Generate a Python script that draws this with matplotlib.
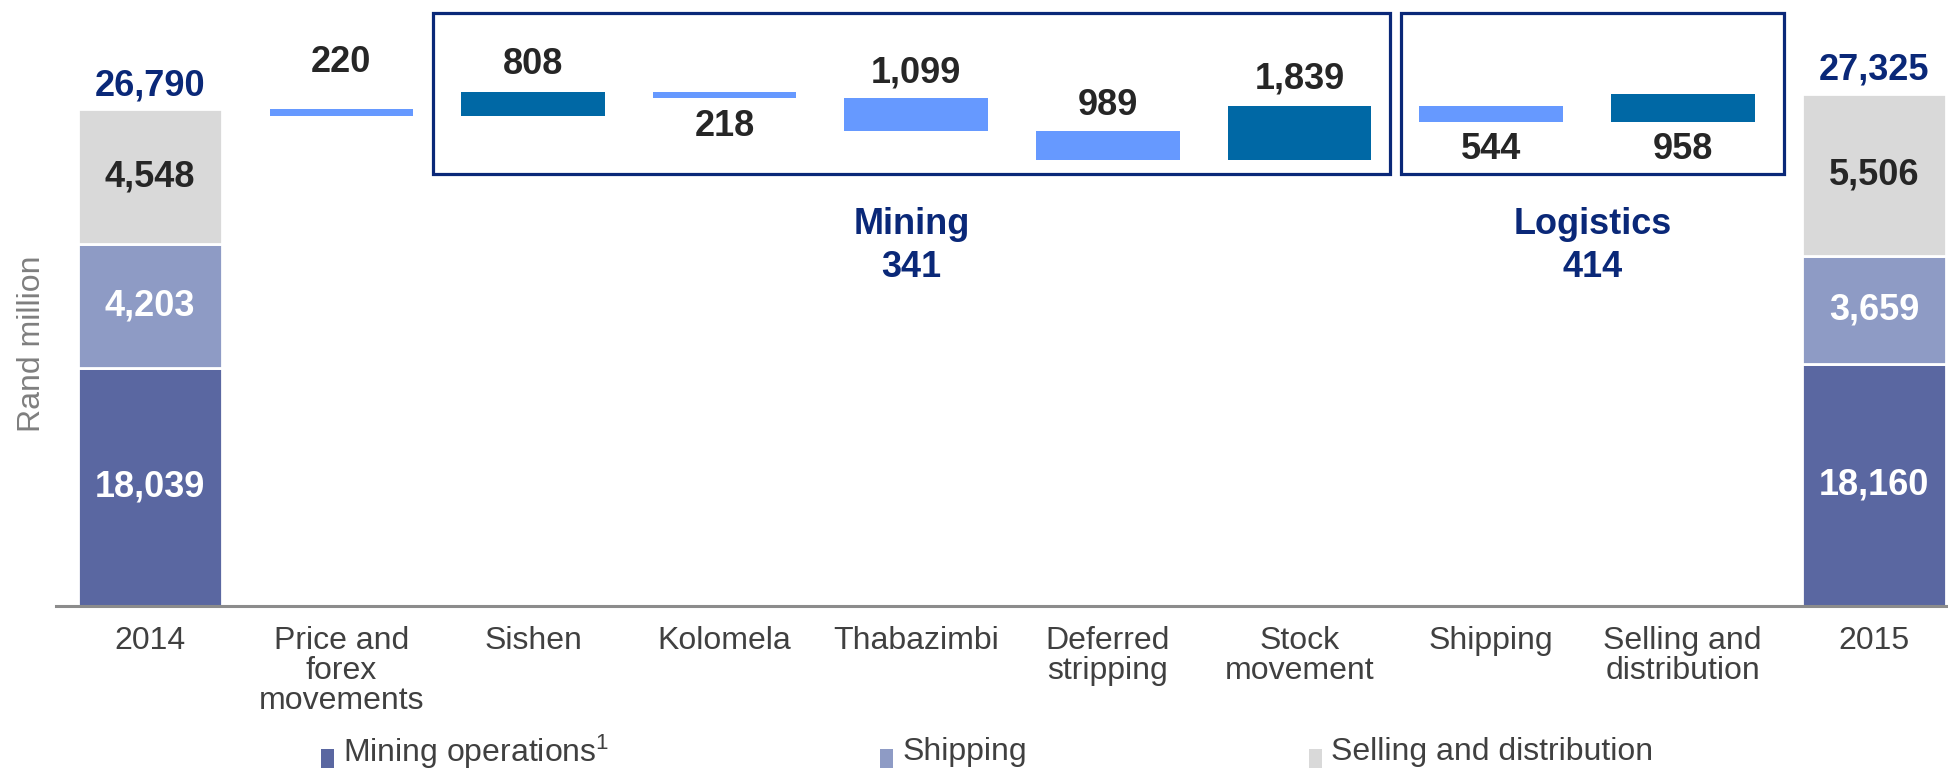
import matplotlib
matplotlib.use("Agg")
import matplotlib.pyplot as plt
import matplotlib.transforms as mtransforms
from matplotlib.patches import Rectangle

plt.rcParams['font.family'] = ['Liberation Sans', 'DejaVu Sans']
plt.rcParams['mathtext.default'] = 'regular'

# data
categories = ["2014", "Price and\nforex\nmovements", "Sishen", "Kolomela", "Thabazimbi",
              "Deferred\nstripping", "Stock\nmovement", "Shipping",
              "Selling and\ndistribution", "2015"]
segment_names = ["Mining operations$^{1}$", "Shipping", "Selling and distribution"]
parts_2014 = [18039, 4203, 4548]
parts_2015 = [18160, 3659, 5506]
changes = [-220, 808, -218, -1099, -989, 1839, -544, 958]
label_offset = [34, 20, -20, 18, 18, 19, -20, -20]  # points, + above / - below
groups = ["Mining", "Logistics"]
group_totals = [341, 414]
group_members = [(2, 6), (7, 8)]

# style
NAVY = '#0A2878'
UP = '#0068A5'
DOWN = '#6699FF'
seg_colors = ['#5A67A1', '#8E9BC5', '#D9D9D9']
seg_text = ['white', 'white', '#262626']
VAL = '#262626'
GREY = '#404040'
YMIN, YMAX = 9970, 30490
W = 0.75

fig = plt.figure(figsize=(19.49, 7.68), dpi=100)
ax = fig.add_axes([0.0287, 0.2104, 0.9713, 0.7896])

# stacked totals
for idx, parts in [(0, parts_2014), (len(categories) - 1, parts_2015)]:
    bottom = 0
    for p, c, tc in zip(parts, seg_colors, seg_text):
        ax.bar(idx, p, W, bottom=bottom, color=c, edgecolor='white', linewidth=2)
        mid = (max(bottom, YMIN) + bottom + p) / 2
        ax.text(idx, mid, f"{p:,}", ha='center', va='center', color=tc,
                fontsize=26, fontweight='bold')
        bottom += p
    ax.annotate(f"{bottom:,}", (idx, bottom), xytext=(0, 17), textcoords='offset points',
                ha='center', va='center', color=NAVY, fontsize=26, fontweight='bold')

# floating bars
level = sum(parts_2014)
for i, (d, off) in enumerate(zip(changes, label_offset), start=1):
    lo = min(level, level + d)
    ax.bar(i, abs(d), W, bottom=lo, color=UP if d > 0 else DOWN, linewidth=0)
    anchor = lo + abs(d) if off > 0 else lo
    ax.annotate(f"{abs(d):,}", (i, anchor), xytext=(0, off), textcoords='offset points',
                ha='center', va='center', color=VAL, fontsize=26, fontweight='bold')
    level += d

# group boxes
trans = mtransforms.blended_transform_factory(ax.transData, ax.transAxes)
box_pads = [(0.52, 0.47), (0.47, 0.53)]
for name, tot, (a, b), (pl, pr) in zip(groups, group_totals, group_members, box_pads):
    x0, x1 = a - pl, b + pr
    ax.add_patch(Rectangle((x0, 0.713), x1 - x0, 0.265, transform=trans, fill=False,
                           edgecolor=NAVY, linewidth=2.3, clip_on=False))
    ax.text((x0 + x1) / 2, 0.594, f"{name}\n{tot}", transform=trans, ha='center', va='center',
            color=NAVY, fontsize=26, fontweight='bold', linespacing=1.3)

ax.set_xlim(-0.49, 9.39)
ax.set_ylim(YMIN, YMAX)
ax.set_xticks(range(len(categories)))
ax.set_xticklabels(categories, fontsize=23, color=GREY)
for t in ax.get_xticklabels():
    t.set_linespacing(1.0)
ax.tick_params(axis='x', length=0, pad=14)
ax.set_yticks([])
for s in ['top', 'left', 'right']:
    ax.spines[s].set_visible(False)
ax.spines['bottom'].set_color('#8C8C8C')
ax.spines['bottom'].set_linewidth(2.2)

fig.text(26 / 1568, 1 - 277 / 618, "Rand million", rotation=90, ha='center', va='center',
         fontsize=23, color='#7F7F7F')

# legend
leg_x = [258 / 1568, 708 / 1568, 1053 / 1568]
for lx, name, c in zip(leg_x, segment_names, seg_colors):
    fig.patches.append(Rectangle((lx, 0.0), 0.0066, 0.025, transform=fig.transFigure,
                                 facecolor=c, edgecolor='none'))
    fig.text(lx + 0.0115, 0.021, name, ha='left', va='center', fontsize=23, color=GREY)

fig.savefig("out.png", dpi=100)
